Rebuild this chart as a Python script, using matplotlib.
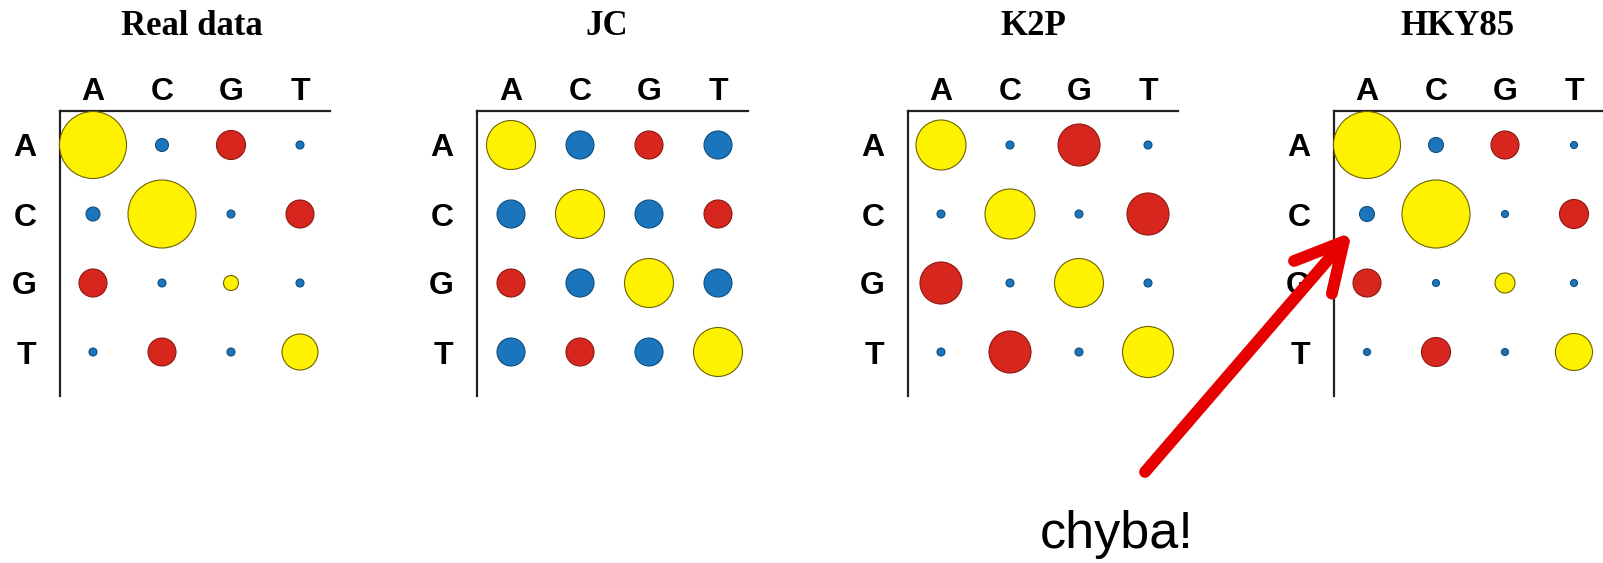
import matplotlib
matplotlib.use("Agg")
from matplotlib import pyplot as plt
from matplotlib.patches import FancyArrowPatch
import numpy as np

########################################################
# data: bubble diameters (px) for substitution matrices
bases = ['A', 'C', 'G', 'T']
titles = ['Real data', 'JC', 'K2P', 'HKY85']

real_data = [[67, 13, 29, 8],
             [14, 68, 8, 28],
             [28, 8, 15, 8],
             [8, 28, 8, 36]]
jc = [[49, 28, 28, 28],
      [28, 49, 28, 28],
      [28, 28, 49, 28],
      [28, 28, 28, 49]]
k2p = [[50, 8, 42, 8],
       [8, 50, 8, 42],
       [42, 8, 49, 8],
       [8, 42, 8, 51]]
hky85 = [[67, 15, 28, 7],
         [15, 68, 7, 29],
         [28, 7, 20, 7],
         [7, 29, 7, 37]]
matrices = [real_data, jc, k2p, hky85]

note = 'chyba!'

########################################################
# layout (pixels of the 1603x563 picture)
W, H = 1603, 563
axis_x = [60, 477, 908, 1334]
col_a = [93, 511, 941, 1367]
right_end = [330, 748, 1178, 1603]
title_x = [192, 607, 1033, 1457]
sp = 69.0
top_y, row_a, bottom_y = 111, 145, 396

yellow, red, blue = '#fff200', '#d7261e', '#1b75bc'
edge = {yellow: '#6e6200', red: '#8a1a12', blue: '#0f4f80'}


def colour(i, j):
    if i == j:
        return yellow
    if {bases[i], bases[j]} in ({'A', 'G'}, {'C', 'T'}):
        return red
    return blue


fig = plt.figure(figsize=(W / 100, H / 100), dpi=100)

for k in range(4):
    ax = fig.add_axes([axis_x[k] / W, 1 - bottom_y / H,
                       (right_end[k] - axis_x[k]) / W, (bottom_y - top_y) / H])
    m = np.array(matrices[k])
    xs, ys, ss, cs, es = [], [], [], [], []
    for i in range(4):
        for j in range(4):
            xs.append(j)
            ys.append(i)
            ss.append((m[i, j] * 0.72) ** 2)
            c = colour(i, j)
            cs.append(c)
            es.append(edge[c])
    ax.scatter(xs, ys, s=ss, c=cs, edgecolors=es, linewidths=0.8,
               clip_on=False, zorder=3)
    ax.set_xlim(-(col_a[k] - axis_x[k]) / sp, (right_end[k] - col_a[k]) / sp)
    ax.set_ylim((bottom_y - row_a) / sp, -(row_a - top_y) / sp)
    for s in ['right', 'bottom']:
        ax.spines[s].set_visible(False)
    for s in ['left', 'top']:
        ax.spines[s].set_color('#222222')
        ax.spines[s].set_linewidth(1.6)
    ax.xaxis.tick_top()
    ax.set_xticks(range(4))
    ax.set_xticklabels(bases, fontfamily='Liberation Sans', fontweight='bold', fontsize=23)
    ax.set_yticks(range(4))
    ax.set_yticklabels(bases, fontfamily='Liberation Sans', fontweight='bold', fontsize=23)
    ax.tick_params(axis='x', length=0, pad=3)
    ax.tick_params(axis='y', length=0, pad=17)
    ax.patch.set_visible(False)
    fig.text(title_x[k] / W, 1 - 35 / H, titles[k], ha='center', va='baseline',
             fontfamily='Liberation Serif', fontweight='bold', fontsize=25)

########################################################
# arrow + note
arrow = FancyArrowPatch((1145 / W, 1 - 472 / H), (1352 / W, 1 - 232 / H),
                        transform=fig.transFigure,
                        arrowstyle='->,head_length=34,head_width=18',
                        mutation_scale=1, lw=8.5, color='#e60000',
                        shrinkA=0, shrinkB=0, zorder=10)
fig.add_artist(arrow)
fig.text(1117 / W, 1 - 548 / H, note, ha='center', va='baseline',
         fontfamily='Liberation Sans', fontsize=37.5, color='black')

plt.savefig('out.png', dpi=100)
